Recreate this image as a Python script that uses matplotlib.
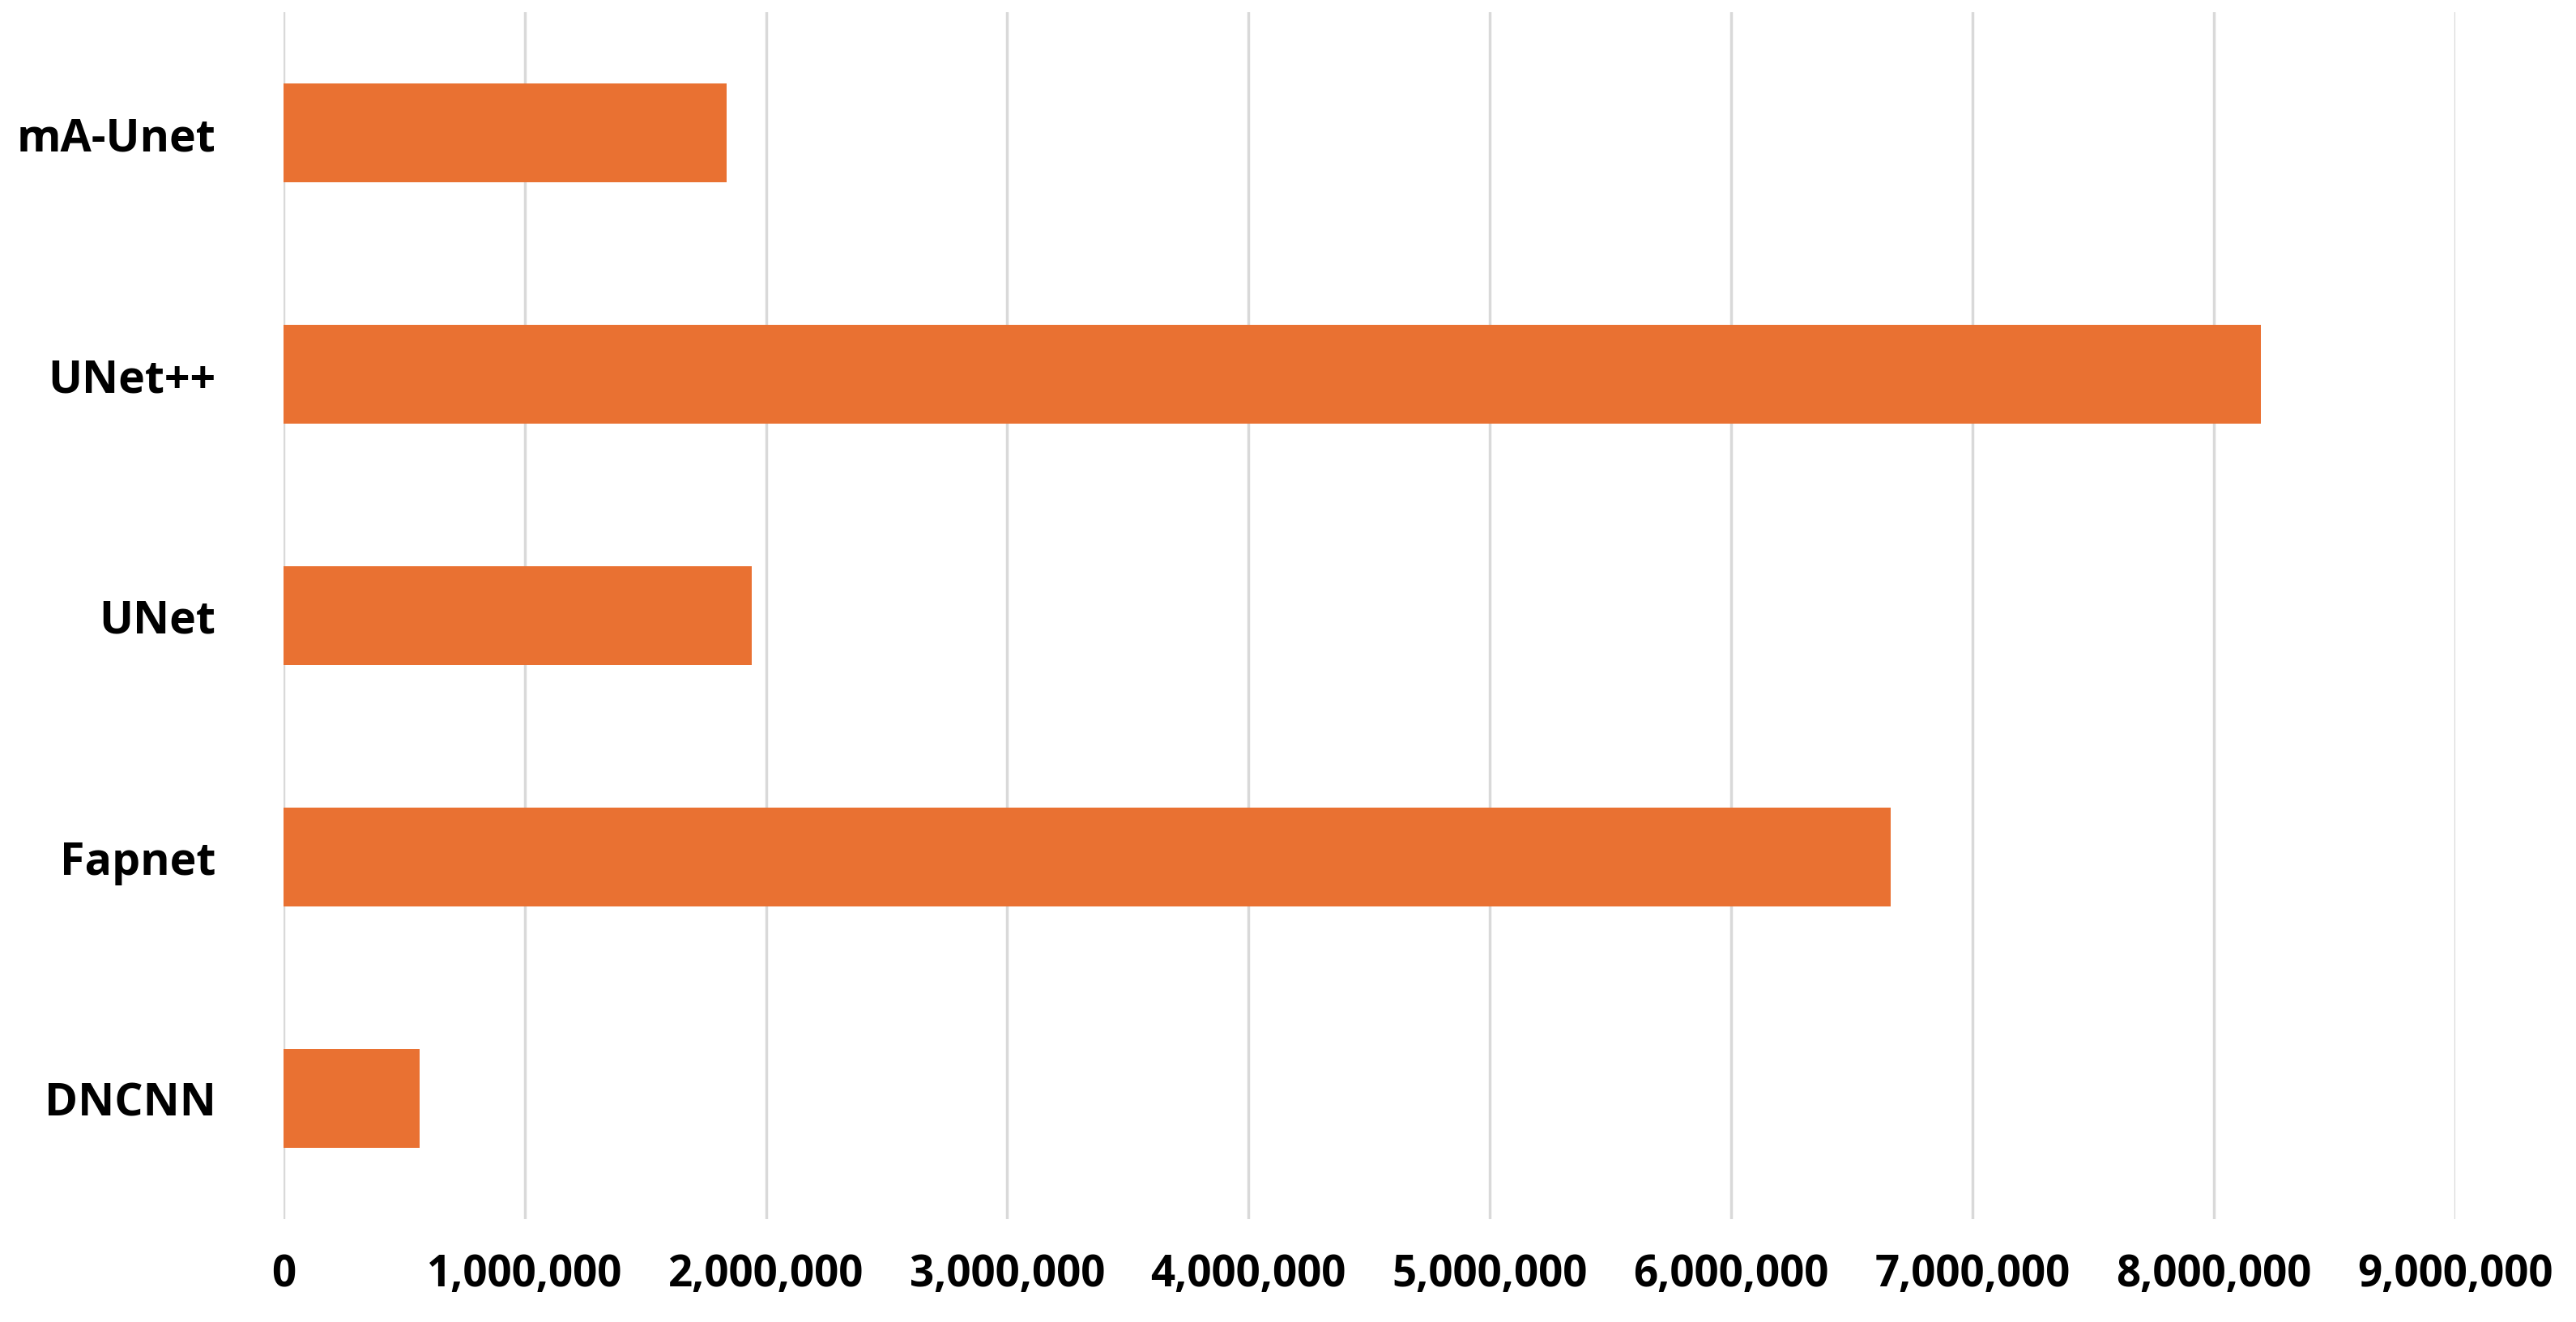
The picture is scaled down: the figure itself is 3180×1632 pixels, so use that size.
import matplotlib
matplotlib.use("Agg")
import matplotlib.pyplot as plt
from matplotlib.ticker import FuncFormatter

categories = ["DNCNN", "Fapnet", "UNet", "UNet++", "mA-Unet"]
values = [565000, 6660000, 1940000, 8196000, 1838000]
xticks = [0, 1000000, 2000000, 3000000, 4000000, 5000000, 6000000, 7000000, 8000000, 9000000]

plt.rcParams['font.family'] = ['Open Sans', 'DejaVu Sans']
fig = plt.figure(figsize=(31.8, 16.33), dpi=100)
ax = fig.add_axes([0.110, 0.078, 0.843, 0.912])
ax.barh(range(len(categories)), values, height=0.41, color="#E97132", zorder=3)
ax.set_yticks(range(len(categories)))
ax.set_yticklabels(categories, fontsize=40, fontweight='bold')
ax.set_xticks(xticks)
ax.xaxis.set_major_formatter(FuncFormatter(lambda v, p: f"{int(v):,}"))
for t in ax.get_xticklabels():
    t.set_fontsize(38); t.set_fontweight('bold')
ax.set_xlim(0, 9000000)
ax.set_ylim(-0.5, 4.5)
ax.grid(axis='x', color='#D9D9D9', linewidth=2.5, zorder=0)
for s in ax.spines.values():
    s.set_visible(False)
ax.tick_params(length=0, pad=30)
ax.tick_params(axis='y', pad=60)
fig.savefig("out.png", dpi=100)
